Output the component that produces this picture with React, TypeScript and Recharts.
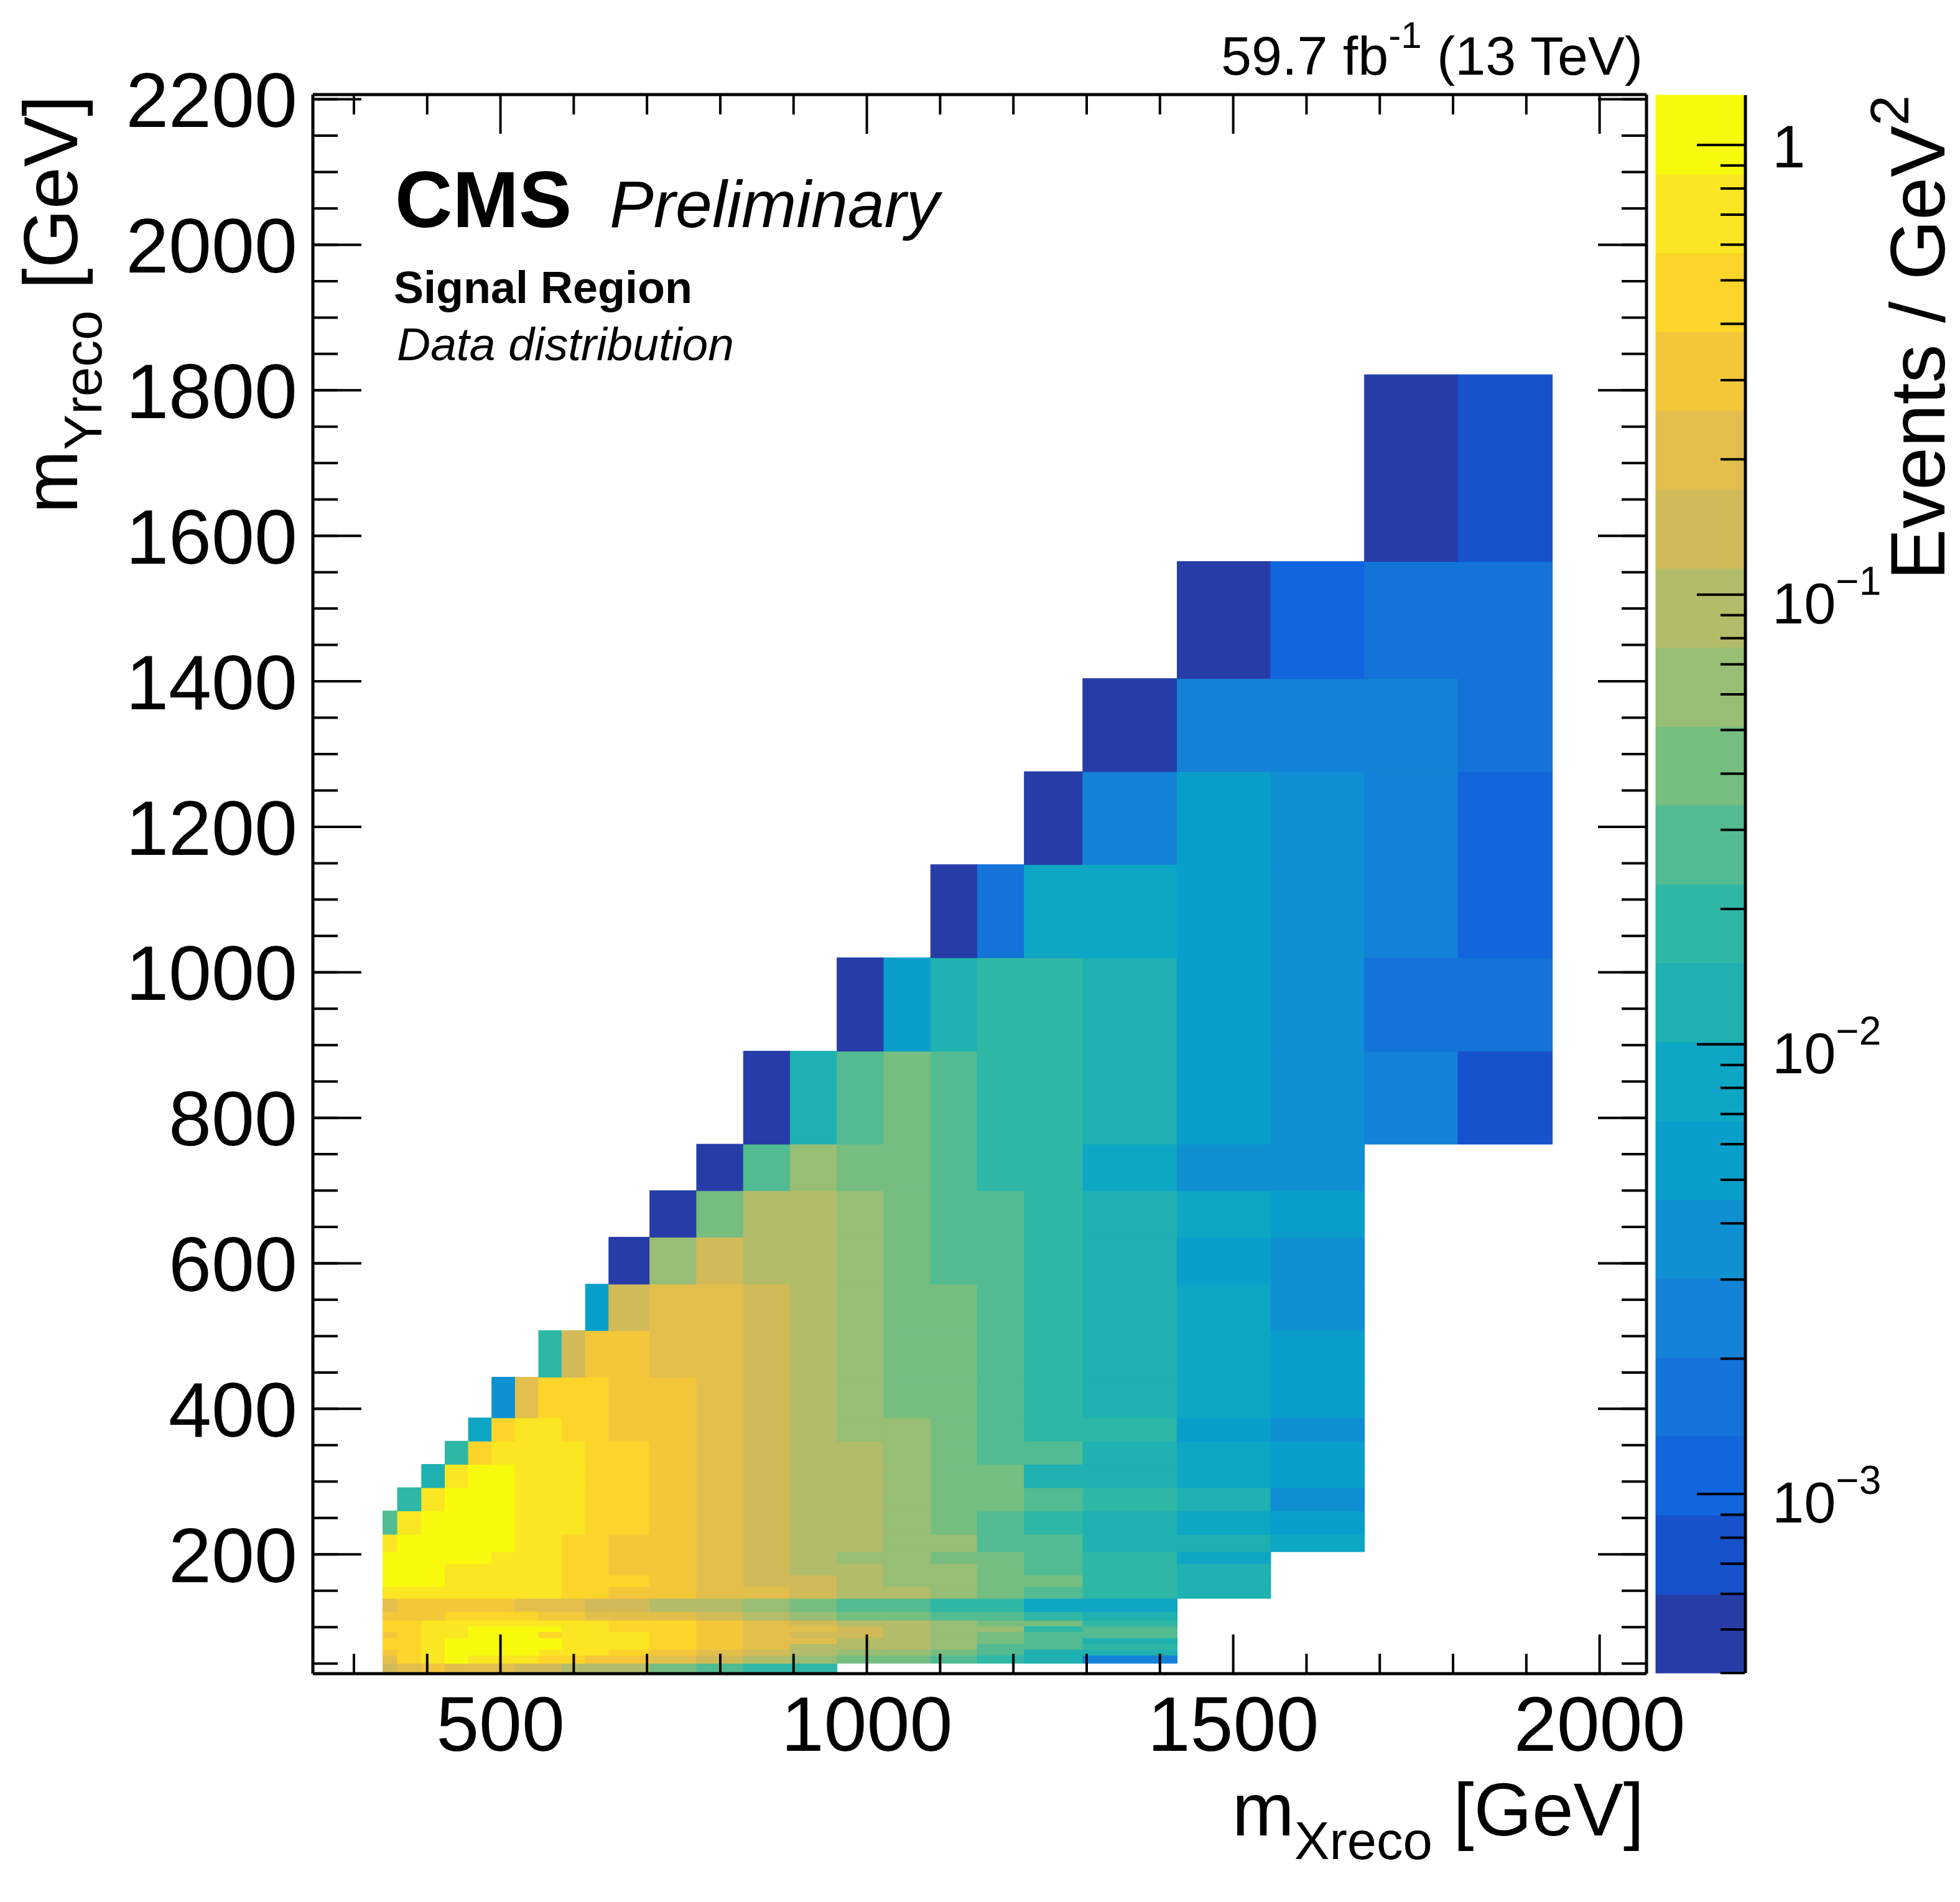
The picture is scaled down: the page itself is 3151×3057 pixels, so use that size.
import React from "react";
import { ComposedChart, ReferenceArea, Scatter, XAxis, YAxis } from "recharts";

const W = 3151;
const H = 3057;
const FONT = "'Liberation Sans', Arial, Helvetica, sans-serif";

// plot frame in page pixels
const FRAME = { left: 505, right: 2645, top: 153, bottom: 2689 };
const CBAR = { left: 2662, right: 2804 };

const X_DOMAIN: [number, number] = [244, 2064];
const Y_DOMAIN: [number, number] = [36, 2206.5];

// bin edges (GeV)
const xEdges = [
  338, 358, 391, 423, 455, 487, 519, 551, 583, 615, 647, 703, 767, 831, 895, 959, 1023, 1087, 1151, 1215,
  1295, 1424, 1552, 1680, 1808, 1937,
];
const yEdges = [
  36, 49.5, 60.5, 68.5, 76.5, 84.5, 92.8, 100.8, 108.7, 120.7, 138.7, 154.7, 170.7, 186.9, 202.9, 226.9, 259,
  291, 323, 355, 387, 443, 507, 571, 635.5, 699.5, 763.5, 891.5, 1020, 1148, 1276, 1404, 1565, 1822,
];

// events / GeV^2, one array per mY bin (bottom to top), one entry per mX bin
const _ = null;
const row00 = [0.14, 0.21, 0.31, 0.21, 0.21, 0.21, 0.14, 0.14, 0.093, 0.093, 0.093, 0.042, 0.028, 0.019, 0.019, _, _, _, _, _, _, _, _, _, _];
const row01 = [0.21, 0.46, 0.7, 1.05, 0.7, 0.7, 0.7, 0.46, 0.46, 0.31, 0.31, 0.21, 0.14, 0.093, 0.062, 0.042, 0.042, 0.028, 0.019, 0.012, 0.0025, _, _, _, _];
const row02 = [0.31, 0.46, 0.7, 1.05, 1.05, 1.05, 1.05, 0.7, 0.7, 0.7, 0.46, 0.31, 0.21, 0.14, 0.093, 0.062, 0.062, 0.042, 0.028, 0.012, 0.012, _, _, _, _];
const row03 = [0.46, 0.46, 0.7, 1.05, 1.05, 1.05, 1.05, 1.05, 0.7, 0.7, 0.7, 0.46, 0.31, 0.21, 0.093, 0.093, 0.093, 0.062, 0.028, 0.028, 0.019, _, _, _, _];
const row04 = [0.46, 0.46, 0.7, 1.05, 1.05, 1.05, 1.05, 1.05, 0.7, 0.7, 0.7, 0.46, 0.31, 0.21, 0.21, 0.093, 0.093, 0.062, 0.042, 0.028, 0.012, _, _, _, _];
const row05 = [0.31, 0.46, 0.7, 0.7, 1.05, 1.05, 1.05, 0.46, 0.7, 0.7, 0.7, 0.46, 0.31, 0.21, 0.14, 0.14, 0.093, 0.062, 0.042, 0.028, 0.028, _, _, _, _];
const row06 = [0.46, 0.46, 0.7, 0.7, 1.05, 1.05, 1.05, 1.05, 0.7, 0.7, 0.46, 0.46, 0.31, 0.21, 0.21, 0.14, 0.093, 0.062, 0.062, 0.019, 0.028, _, _, _, _];
const row07 = [0.46, 0.46, 0.7, 0.7, 0.7, 0.7, 0.7, 0.7, 0.7, 0.7, 0.46, 0.46, 0.31, 0.21, 0.14, 0.093, 0.093, 0.062, 0.042, 0.042, 0.019, _, _, _, _];
const row08 = [0.31, 0.31, 0.31, 0.46, 0.46, 0.46, 0.46, 0.31, 0.31, 0.21, 0.21, 0.21, 0.14, 0.093, 0.062, 0.042, 0.042, 0.028, 0.028, 0.019, 0.012, _, _, _, _];
const row09 = [0.21, 0.31, 0.31, 0.31, 0.31, 0.31, 0.21, 0.21, 0.21, 0.14, 0.14, 0.093, 0.093, 0.062, 0.042, 0.028, 0.028, 0.019, 0.019, 0.0083, 0.0083, _, _, _, _];
const row10 = [0.7, 0.7, 0.7, 0.7, 0.7, 0.7, 0.7, 0.7, 0.46, 0.46, 0.31, 0.31, 0.21, 0.21, 0.14, 0.093, 0.093, 0.062, 0.042, 0.028, 0.019, 0.012, _, _, _];
const row11 = [1.05, 1.05, 1.05, 0.7, 0.7, 0.7, 0.7, 0.7, 0.46, 0.46, 0.46, 0.31, 0.21, 0.14, 0.14, 0.093, 0.062, 0.062, 0.042, 0.042, 0.019, 0.012, _, _, _];
const row12 = [1.05, 1.05, 1.05, 0.7, 0.7, 0.7, 0.7, 0.7, 0.46, 0.46, 0.31, 0.31, 0.21, 0.14, 0.093, 0.093, 0.062, 0.062, 0.042, 0.028, 0.019, 0.012, _, _, _];
const row13 = [1.05, 1.05, 1.05, 1.05, 1.05, 0.7, 0.7, 0.7, 0.46, 0.46, 0.31, 0.31, 0.21, 0.14, 0.093, 0.062, 0.062, 0.042, 0.042, 0.028, 0.019, 0.0083, _, _, _];
const row14 = [0.7, 1.05, 1.05, 1.05, 1.05, 1.05, 0.7, 0.7, 0.46, 0.46, 0.31, 0.31, 0.21, 0.14, 0.093, 0.093, 0.062, 0.062, 0.028, 0.028, 0.012, 0.012, 0.0083, _, _];
const row15 = [0.028, 0.7, 1.05, 1.05, 1.05, 1.05, 0.7, 0.7, 0.7, 0.46, 0.46, 0.31, 0.21, 0.14, 0.093, 0.093, 0.062, 0.042, 0.028, 0.019, 0.012, 0.0083, 0.0055, _, _];
const row16 = [_, 0.019, 0.7, 1.05, 1.05, 1.05, 0.7, 0.7, 0.7, 0.46, 0.46, 0.31, 0.21, 0.14, 0.093, 0.093, 0.062, 0.042, 0.042, 0.028, 0.019, 0.012, 0.0037, _, _];
const row17 = [_, _, 0.012, 0.7, 1.05, 1.05, 0.7, 0.7, 0.7, 0.46, 0.46, 0.31, 0.21, 0.14, 0.093, 0.093, 0.062, 0.042, 0.042, 0.012, 0.012, 0.0083, 0.0055, _, _];
const row18 = [_, _, _, 0.019, 0.46, 0.7, 0.7, 0.7, 0.7, 0.46, 0.46, 0.31, 0.21, 0.14, 0.093, 0.093, 0.062, 0.042, 0.028, 0.028, 0.012, 0.0083, 0.0055, _, _];
const row19 = [_, _, _, _, 0.0083, 0.46, 0.7, 0.7, 0.46, 0.46, 0.31, 0.31, 0.21, 0.14, 0.093, 0.062, 0.062, 0.042, 0.028, 0.019, 0.019, 0.0055, 0.0037, _, _];
const row20 = [_, _, _, _, _, 0.0037, 0.21, 0.46, 0.46, 0.46, 0.31, 0.31, 0.21, 0.14, 0.093, 0.062, 0.042, 0.042, 0.028, 0.019, 0.012, 0.0083, 0.0055, _, _];
const row21 = [_, _, _, _, _, _, _, 0.019, 0.14, 0.31, 0.31, 0.21, 0.21, 0.14, 0.093, 0.062, 0.042, 0.042, 0.028, 0.019, 0.012, 0.0083, 0.0055, _, _];
const row22 = [_, _, _, _, _, _, _, _, _, 0.0055, 0.14, 0.21, 0.21, 0.14, 0.093, 0.062, 0.042, 0.042, 0.028, 0.019, 0.012, 0.0083, 0.0037, _, _];
const row23 = [_, _, _, _, _, _, _, _, _, _, 0.00049, 0.062, 0.14, 0.093, 0.093, 0.062, 0.042, 0.028, 0.028, 0.019, 0.012, 0.0055, 0.0037, _, _];
const row24 = [_, _, _, _, _, _, _, _, _, _, _, 0.00049, 0.042, 0.093, 0.093, 0.062, 0.042, 0.028, 0.028, 0.019, 0.012, 0.0083, 0.0055, _, _];
const row25 = [_, _, _, _, _, _, _, _, _, _, _, _, 0.00049, 0.028, 0.062, 0.042, 0.042, 0.028, 0.019, 0.019, 0.0083, 0.0037, 0.0037, _, _];
const row26 = [_, _, _, _, _, _, _, _, _, _, _, _, _, 0.00049, 0.012, 0.028, 0.042, 0.028, 0.019, 0.019, 0.012, 0.0055, 0.0037, 0.0025, 0.00073];
const row27 = [_, _, _, _, _, _, _, _, _, _, _, _, _, _, _, 0.00049, 0.0055, 0.012, 0.019, 0.019, 0.012, 0.0055, 0.0037, 0.0016, 0.0016];
const row28 = [_, _, _, _, _, _, _, _, _, _, _, _, _, _, _, _, _, 0.00049, 0.0016, 0.0083, 0.0083, 0.0055, 0.0037, 0.0025, 0.0011];
const row29 = [_, _, _, _, _, _, _, _, _, _, _, _, _, _, _, _, _, _, _, 0.00049, 0.0025, 0.0055, 0.0037, 0.0025, 0.0011];
const row30 = [_, _, _, _, _, _, _, _, _, _, _, _, _, _, _, _, _, _, _, _, 0.00049, 0.0025, 0.0025, 0.0025, 0.0016];
const row31 = [_, _, _, _, _, _, _, _, _, _, _, _, _, _, _, _, _, _, _, _, _, 0.00049, 0.0011, 0.0016, 0.0016];
const row32 = [_, _, _, _, _, _, _, _, _, _, _, _, _, _, _, _, _, _, _, _, _, _, _, 0.00049, 0.00073];

const rows: (number | null)[][] = [
  row00, row01, row02, row03, row04, row05, row06, row07, row08, row09, row10,
  row11, row12, row13, row14, row15, row16, row17, row18, row19, row20, row21,
  row22, row23, row24, row25, row26, row27, row28, row29, row30, row31, row32,
];

// axis ticks
const xTicks = Array.from({ length: 18 }, (_v, i) => 300 + 100 * i); // every 100 GeV, labelled every 500
const yMajorTicks = Array.from({ length: 11 }, (_v, i) => 200 + 200 * i);
const yMinorTicks = Array.from({ length: 44 }, (_v, i) => 50 + 50 * i);
const zMajorTicks = [0.001, 0.01, 0.1, 1];

// colour scale (log, 20 levels)
const Z_MIN = 4.0e-4;
const Z_MAX = 1.29;
const palette = [
  "#263DA8", "#1652CC", "#1166DD", "#1373D9", "#1482D6", "#0F90D3", "#0A9FCB", "#0EA6C5", "#1FB0B1", "#2FB7A6",
  "#52BB91", "#76BD80", "#97BE74", "#B3BC68", "#D1BA58", "#E2BF4C", "#F4C63A", "#FDD42A", "#FAE622", "#F8FA0D",
];
const NB = palette.length;
const LOG_MIN = Math.log10(Z_MIN);
const LOG_STEP = (Math.log10(Z_MAX) - LOG_MIN) / NB;
const levelEdges = Array.from({ length: NB + 1 }, (_v, i) => Math.pow(10, LOG_MIN + LOG_STEP * i));

const zMinorTicks: number[] = [];
for (let d = -4; d <= -1; d++) {
  for (let m = 2; m <= 9; m++) {
    const t = m * Math.pow(10, d);
    if (t >= Z_MIN * 0.999 && t <= Z_MAX) zMinorTicks.push(t);
  }
}

function colorFor(v: number) {
  const k = Math.floor((Math.log10(v) - LOG_MIN) / LOG_STEP);
  return palette[Math.max(0, Math.min(NB - 1, k))];
}

const cells = rows.flatMap((row, j) =>
  row.flatMap((v, i) =>
    v == null
      ? []
      : [{
          x1: xEdges[i], x2: xEdges[i + 1], y1: yEdges[j], y2: yEdges[j + 1], v,
          cx: (xEdges[i] + xEdges[i + 1]) / 2, cy: (yEdges[j] + yEdges[j + 1]) / 2,
        }]
  )
);
const bands = palette.map((col, i) => ({
  col, lo: levelEdges[i], hi: levelEdges[i + 1], cx: 0.5, cy: Math.sqrt(levelEdges[i] * levelEdges[i + 1]),
}));

const tickLine = { stroke: "#000", strokeWidth: 4 };
const frameLine = { stroke: "#000", strokeWidth: 5 };
const noShape = () => <g />;
// tick marks only, no label
const bareTick = () => <g />;

// axes must have a non-zero size to be drawn; each one takes 1px
const AX = 1;

// x ticks: inward marks on bottom and top frame, label on majors
function XTick(props: any) {
  const { x, payload } = props;
  const v = payload.value as number;
  const major = v % 500 === 0;
  const len = major ? 62 : 31;
  return (
    <g>
      <line x1={x} x2={x} y1={FRAME.bottom} y2={FRAME.bottom - len} stroke="#000" strokeWidth={4} />
      <line x1={x} x2={x} y1={FRAME.top} y2={FRAME.top + len} stroke="#000" strokeWidth={4} />
      {major && (
        <text x={x} y={FRAME.bottom + 125} textAnchor="middle" fontSize={124} fontFamily={FONT} fill="#000">
          {v}
        </text>
      )}
    </g>
  );
}

function YTickLabel(props: any) {
  const { x, y, payload } = props;
  return (
    <text x={x - 25} y={y} dy="0.36em" textAnchor="end" fontSize={124} fontFamily={FONT} fill="#000">
      {payload.value}
    </text>
  );
}

function ZTickLabel(props: any) {
  const { x, y, payload } = props;
  const v = payload.value as number;
  const exp = Math.round(Math.log10(v));
  if (exp === 0) {
    return (
      <text x={x + 43} y={y + 36} fontSize={96} fontFamily={FONT} fill="#000">
        1
      </text>
    );
  }
  return (
    <text x={x + 43} y={y + 46} fontSize={92} fontFamily={FONT} fill="#000">
      10
      <tspan dy={-46} fontSize={64}>
        {"\u2212" + Math.abs(exp)}
      </tspan>
    </text>
  );
}

const mainMargin = {
  top: FRAME.top - AX,
  right: W - FRAME.right - 2 * AX,
  bottom: H - FRAME.bottom - 2 * AX,
  left: FRAME.left - 3 * AX,
};

// the bins, drawn as reference areas through the chart's scales
function HeatMap() {
  return (
    <ComposedChart width={W} height={H} data={cells} margin={mainMargin}>
      {cells.map((c, k) => {
        const col = colorFor(c.v);
        return (
          <ReferenceArea
            key={k}
            x1={c.x1}
            x2={c.x2}
            y1={c.y1}
            y2={c.y2}
            fill={col}
            fillOpacity={1}
            stroke={col}
            strokeWidth={1}
            ifOverflow="visible"
          />
        );
      })}
      <Scatter data={cells} dataKey="cy" isAnimationActive={false} shape={noShape} />
      <XAxis xAxisId="s1" type="number" domain={X_DOMAIN} allowDataOverflow height={AX} tick={bareTick}
        tickLine={false} axisLine={false} />
      <XAxis dataKey="cx" type="number" domain={X_DOMAIN} allowDataOverflow height={AX} tick={bareTick}
        tickLine={false} axisLine={false} />
      <XAxis xAxisId="s3" orientation="top" type="number" domain={X_DOMAIN} allowDataOverflow height={AX}
        tick={bareTick} tickLine={false} axisLine={false} />
      <YAxis yAxisId="s4" type="number" domain={Y_DOMAIN} allowDataOverflow width={AX} tick={bareTick}
        tickLine={false} axisLine={false} />
      <YAxis yAxisId="s5" type="number" domain={Y_DOMAIN} allowDataOverflow width={AX} tick={bareTick}
        tickLine={false} axisLine={false} />
      <YAxis dataKey="cy" type="number" domain={Y_DOMAIN} allowDataOverflow width={AX} tick={bareTick}
        tickLine={false} axisLine={false} />
      <YAxis yAxisId="s6" orientation="right" type="number" domain={Y_DOMAIN} allowDataOverflow width={AX}
        tick={bareTick} tickLine={false} axisLine={false} />
      <YAxis yAxisId="s7" orientation="right" type="number" domain={Y_DOMAIN} allowDataOverflow width={AX}
        tick={bareTick} tickLine={false} axisLine={false} />
    </ComposedChart>
  );
}

// frame, ticks and tick labels, drawn on top of the bins
function Axes() {
  return (
    <ComposedChart width={W} height={H} data={cells} margin={mainMargin}>
      <Scatter data={cells} dataKey="cy" isAnimationActive={false} shape={noShape} />
      <XAxis xAxisId="xb" type="number" domain={X_DOMAIN} allowDataOverflow height={AX} mirror tick={bareTick}
        tickLine={false} axisLine={frameLine} />
      <XAxis dataKey="cx" type="number" domain={X_DOMAIN} allowDataOverflow ticks={xTicks} interval={0} height={AX}
        tickSize={0} tickMargin={0} tickLine={false} axisLine={false} tick={(p: any) => <XTick {...p} />} />
      <XAxis xAxisId="xt" orientation="top" type="number" domain={X_DOMAIN} allowDataOverflow height={AX} mirror
        tick={bareTick} tickLine={false} axisLine={frameLine} />

      <YAxis yAxisId="ylMaj" type="number" domain={Y_DOMAIN} allowDataOverflow ticks={yMajorTicks} interval={0}
        width={AX} mirror tickSize={78} tick={bareTick} tickLine={tickLine} axisLine={frameLine} />
      <YAxis yAxisId="ylMin" type="number" domain={Y_DOMAIN} allowDataOverflow ticks={yMinorTicks} interval={0}
        width={AX} mirror tickSize={39} tick={bareTick} tickLine={tickLine} axisLine={false} />
      <YAxis dataKey="cy" type="number" domain={Y_DOMAIN} allowDataOverflow ticks={yMajorTicks} interval={0}
        width={AX} tickSize={0} tickMargin={0} tickLine={false} axisLine={false}
        tick={(p: any) => <YTickLabel {...p} />} />
      <YAxis yAxisId="yrMaj" orientation="right" type="number" domain={Y_DOMAIN} allowDataOverflow ticks={yMajorTicks}
        interval={0} width={AX} mirror tickSize={78} tick={bareTick} tickLine={tickLine} axisLine={frameLine} />
      <YAxis yAxisId="yrMin" orientation="right" type="number" domain={Y_DOMAIN} allowDataOverflow ticks={yMinorTicks}
        interval={0} width={AX} mirror tickSize={39} tick={bareTick} tickLine={tickLine} axisLine={false} />
    </ComposedChart>
  );
}

function ColorBar() {
  return (
    <ComposedChart
      width={W}
      height={H}
      data={bands}
      margin={{ top: FRAME.top, right: W - CBAR.right - 3 * AX, bottom: H - FRAME.bottom, left: CBAR.left }}
    >
      {bands.map((b, i) => (
        <ReferenceArea
          key={i}
          x1={0}
          x2={1}
          y1={b.lo}
          y2={b.hi}
          fill={b.col}
          fillOpacity={1}
          stroke={b.col}
          strokeWidth={1}
          ifOverflow="visible"
        />
      ))}
      <Scatter data={bands} dataKey="cy" isAnimationActive={false} shape={noShape} />
      <XAxis dataKey="cx" type="number" domain={[0, 1]} allowDataOverflow hide />
      <YAxis yAxisId="zMaj" orientation="right" type="number" scale="log" domain={[Z_MIN, Z_MAX]} allowDataOverflow
        ticks={zMajorTicks} interval={0} width={AX} mirror tickSize={78} tick={bareTick} tickLine={tickLine}
        axisLine={frameLine} />
      <YAxis yAxisId="zMin" orientation="right" type="number" scale="log" domain={[Z_MIN, Z_MAX]} allowDataOverflow
        ticks={zMinorTicks} interval={0} width={AX} mirror tickSize={39} tick={bareTick} tickLine={tickLine}
        axisLine={false} />
      <YAxis dataKey="cy" orientation="right" type="number" scale="log" domain={[Z_MIN, Z_MAX]} allowDataOverflow
        ticks={zMajorTicks} interval={0} width={AX} tickSize={0} tickMargin={0} tickLine={false} axisLine={false}
        tick={(p: any) => <ZTickLabel {...p} />} />
    </ComposedChart>
  );
}

function Labels() {
  return (
    <svg width={W} height={H} style={{ position: "absolute", left: 0, top: 0, pointerEvents: "none" }}
      fontFamily={FONT} fill="#000">
      <text x={2641} y={120} textAnchor="end" fontSize={88}>
        59.7 fb<tspan dy={-43} fontSize={60}>-1</tspan>
        <tspan dy={43}> (13 TeV)</tspan>
      </text>
      <text x={635} y={365} fontSize={128} fontWeight="bold">CMS</text>
      <text x={980} y={365} fontSize={106} fontStyle="italic">Preliminary</text>
      <text x={633} y={487} fontSize={72} fontWeight="bold">Signal Region</text>
      <text x={638} y={579} fontSize={75} fontStyle="italic">Data distribution</text>
      <text x={2643} y={2950} textAnchor="end" fontSize={120}>
        m<tspan dy={38} fontSize={85}>Xreco</tspan>
        <tspan dy={-38}> [GeV]</tspan>
      </text>
      <text transform="translate(124,153) rotate(-90)" textAnchor="end" fontSize={122}>
        m<tspan dy={39} fontSize={86}>Yreco</tspan>
        <tspan dy={-39}> [GeV]</tspan>
      </text>
      <text transform="translate(3126,153) rotate(-90)" textAnchor="end" fontSize={124}>
        Events / GeV<tspan dy={-58} fontSize={88}>2</tspan>
      </text>
    </svg>
  );
}

const layer: React.CSSProperties = { position: "absolute", left: 0, top: 0 };

export default function App() {
  return (
    <div style={{ position: "absolute", left: 0, top: 0, width: W, height: H, background: "#fff", fontFamily: FONT }}>
      <div style={layer}>
        <HeatMap />
      </div>
      <div style={layer}>
        <ColorBar />
      </div>
      <div style={{ ...layer, pointerEvents: "none" }}>
        <Axes />
      </div>
      <Labels />
    </div>
  );
}
